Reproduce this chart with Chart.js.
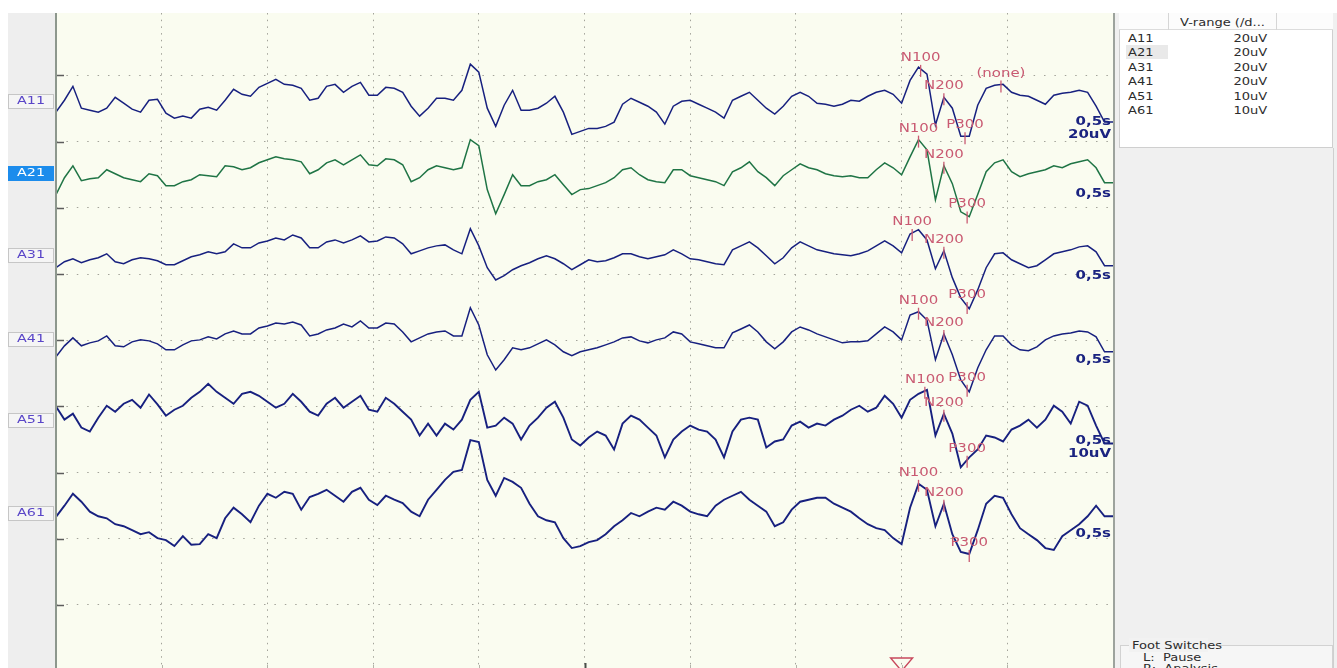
<!DOCTYPE html>
<html lang="en">
<head>
<meta charset="UTF-8">
<title>EEG – evoked potentials</title>
<script src="https://cdn.jsdelivr.net/npm/chart.js@4.4.1/dist/chart.umd.min.js"></script>
<style>
  body { margin: 0; width: 1337px; height: 668px; overflow: hidden; background: #fff;
         font-family: "DejaVu Sans", sans-serif; position: relative; color: #2c2c2c; }
  #eeg { position: absolute; left: 0; top: 0; }
  .abs { position: absolute; }
  .sx { display: inline-block; transform: scaleX(1.24); transform-origin: left center; white-space: nowrap; }
  .sxr { display: inline-block; transform: scaleX(1.24); transform-origin: right center; white-space: nowrap; }
  #side { left: 1113px; top: 13px; width: 224px; height: 655px; background: #f0f0f0;
          border-left: 2px solid #9da39d; box-sizing: border-box; }
  #vtable { left: 1119px; top: 13px; width: 214px; height: 135px; background: #fff;
            border: 1px solid #cfcfcf; box-sizing: border-box; }
  .hdr { left: 1119px; top: 13px; width: 214px; height: 17px; border-bottom: 1px solid #dcdcdc;
         box-sizing: border-box; background: #fcfcfc; }
  .sep { top: 13px; width: 1px; height: 17px; background: #d6d6d6; }
  .cell { font-size: 10.5px; line-height: 14px; height: 14px; }
  .rowsel { background: #e9e9e9; }
  #foot { left: 1120px; top: 645px; width: 213px; height: 30px; border: 1px solid #d2d2d2;
          background: #f6f6f6; box-sizing: border-box; }
</style>
</head>
<body>
<canvas id="eeg" width="1113" height="668"></canvas>

<div id="side" class="abs"></div>
<div id="vtable" class="abs"></div>
<div class="abs hdr"></div>
<div class="abs sep" style="left:1168px"></div>
<div class="abs sep" style="left:1276px"></div>
<div class="abs cell" style="left:1180px; top:14px; line-height:16px"><span class="sx">V-range (/d...</span></div>
<div id="rows"></div>
<div class="abs" style="left:1333px; top:148px; width:1px; height:520px; background:#cfcfcf"></div>
<div id="foot" class="abs"></div>
<div class="abs cell" style="left:1129px; top:638px; background:#f2f2f2; padding:0 3px"><span class="sx">Foot Switches</span></div>
<div class="abs cell" style="left:1143px; top:650px"><span class="sx">L:&nbsp;&nbsp;Pause</span></div>
<div class="abs cell" style="left:1143px; top:661px"><span class="sx">R:&nbsp;&nbsp;Analysis</span></div>

<script>
// sweep: 10 divisions of 0,5 s, one sample every 40 ms
const SAMPLE_STEP = 0.04;
const SWEEP = 5;
const STIMULUS = 4.0;

const channelNames = ['A11', 'A21', 'A31', 'A41', 'A51', 'A61'];
const vRange = [20, 20, 20, 20, 10, 10];          // uV per division
const rangeLabels = ['20uV', '20uV', '20uV', '20uV', '10uV', '10uV'];
const timeLabel = '0,5s';

// traces in uV (positive up)
const A11 = [
  -3.3, 0.3, 4.5, -2.1, -2.7, -3.3, -2.1, 1.2, -0.6, -2.4,
  -3.3, 0.3, 0.6, -3.6, -5.1, -4.5, -5.1, -2.4, -1.8, -2.7,
  0.3, 3.6, 2.1, 1.5, 4.2, 5.4, 6.6, 5.1, 4.8, 3.9,
  0.3, 0.9, 4.5, 5.1, 2.7, 4.5, 5.7, 1.8, 1.8, 4.2,
  3.9, 2.7, -1.5, -4.5, -2.1, 0.9, 0.9, 0.3, 3.3, 11.2,
  8.8, -2.1, -7.6, -1.2, 3.3, -2.7, -2.7, -2.1, -0.6, 1.5,
  -3.3, -10.0, -9.1, -8.2, -8.2, -7.6, -6.3, -0.9, 0.9, -0.3,
  -1.5, -3.3, -6.9, -1.5, 0, 0.3, -0.9, -2.1, -3.3, -5.1,
  0.3, 1.5, 2.7, 0.3, -2.1, -3.9, -1.5, 1.5, 2.7, 1.5,
  -0.6, -0.9, -1.5, -0.9, 0.3, 0, 1.5, 2.7, 3.3, 2.1,
  -0.6, 6.3, 10.3, 8.2, -7.2, 1.2, -2.1, -10.6, -10.6, -1.2,
  3.9, 4.8, 5.1, 2.7, 1.8, 1.5, 0.3, -0.9, 1.8, 2.4,
  2.7, 3.3, 2.7, -1.5, -6.3, -6.3
];
const A21 = [
  -6.6, -1.5, 2.1, -2.4, -1.8, -1.5, 0.9, -0.3, -1.5, -2.1,
  -2.7, -0.3, -0.9, -3.9, -3.9, -2.7, -2.1, -0.6, -0.9, -1.2,
  2.1, 1.8, 0.9, 1.5, 3.0, 3.9, 4.8, 4.2, 3.9, 3.3,
  -0.3, 0.9, 3.0, 3.9, 2.4, 3.9, 5.4, 2.4, 2.1, 4.2,
  3.9, 2.4, -2.7, -1.5, 0.9, 2.1, 1.5, 0.9, 1.5, 10.0,
  8.2, -5.1, -12.4, -6.6, -0.6, -3.9, -3.9, -2.7, -2.1, -0.6,
  -3.6, -6.6, -5.1, -4.8, -3.9, -3.0, -1.5, 0.9, 1.5, -0.6,
  -2.1, -2.7, -3.0, 0.9, 0.9, -0.9, -1.5, -2.1, -2.7, -3.9,
  0.3, 1.5, 3.3, 0.3, -1.5, -3.9, -0.9, 0.9, 2.7, 1.5,
  0.9, -0.3, -0.9, -1.2, -0.9, -1.5, -1.5, 0.9, 3.0, 1.5,
  -0.6, 4.8, 10.0, 6.9, -8.2, 2.1, -3.3, -11.8, -13.3, -6.6,
  0.3, 3.0, 3.9, 0.3, -1.2, -0.3, 0.3, 0.9, 2.1, 1.5,
  2.7, 3.3, 3.9, 1.5, -3.0, -3.0
];
const A31 = [
  -3.9, -2.1, -1.2, -2.4, -1.5, -0.9, 0.3, -2.1, -2.7, -1.5,
  -0.9, -1.2, -1.8, -3.0, -3.0, -1.8, -0.6, 0, 0.9, 0.3,
  0.9, 3.3, 2.1, 2.1, 3.6, 4.2, 5.1, 4.5, 6.0, 5.1,
  2.1, 2.1, 3.9, 4.5, 3.6, 4.5, 5.7, 3.9, 4.2, 5.4,
  5.1, 3.3, 0.3, 1.2, 2.1, 2.7, 3.0, 1.5, 0.3, 7.9,
  2.7, -3.9, -7.6, -6.3, -4.5, -3.3, -2.4, -1.2, -0.3, -1.2,
  -2.7, -4.5, -3.0, -1.5, -2.1, -1.8, -0.9, 0.3, 0.3, -0.6,
  -1.2, -0.6, 0, 1.5, 0.3, -1.2, -1.5, -2.1, -2.7, -3.0,
  1.5, 2.7, 3.9, 2.1, -0.3, -2.7, -0.9, 2.1, 3.9, 2.7,
  1.5, 0.9, 0.3, 0, -0.3, 0.3, 1.2, 2.7, 4.2, 2.7,
  0.6, 6.3, 7.6, 4.5, -4.2, 1.2, -6.9, -13.0, -16.3, -10.6,
  -3.9, 0.3, 0.6, -1.5, -2.7, -3.9, -3.3, -1.5, 0.3, 0.9,
  1.5, 2.4, 2.7, 0.9, -3.3, -3.3
];
const A41 = [
  -5.4, -2.1, 0.3, -2.1, -1.2, -0.6, 0.9, -2.1, -2.4, -0.9,
  -0.3, -0.6, -1.5, -3.3, -3.3, -1.8, -0.6, -0.3, 0.6, 0,
  1.5, 2.4, 1.5, 1.5, 3.3, 3.9, 4.8, 4.5, 5.1, 4.2,
  0.9, 1.5, 2.7, 3.3, 4.5, 3.6, 5.4, 3.3, 3.3, 4.8,
  4.5, 2.1, -0.9, 0.3, 1.5, 2.1, 2.4, 0.9, 0.9, 9.4,
  4.2, -4.8, -9.4, -6.3, -2.7, -3.3, -2.7, -1.5, -0.3, -1.8,
  -3.9, -5.1, -3.9, -3.3, -2.7, -1.8, -0.9, 0.3, 0.6, -0.6,
  -1.2, -0.3, 0.3, 2.1, 1.5, -0.9, -1.5, -2.1, -2.7, -2.7,
  1.8, 3.0, 4.2, 2.1, -0.9, -3.0, -0.9, 2.1, 3.6, 2.7,
  1.5, 0.6, -0.3, -1.2, -0.9, -0.9, -0.6, 1.5, 3.6, 2.1,
  -0.3, 7.2, 8.2, 5.7, -6.3, 1.5, -4.8, -12.4, -16.0, -8.8,
  -3.3, 0.9, 0.9, -1.8, -3.3, -3.6, -2.4, -0.3, 0.9, 1.5,
  1.8, 2.4, 2.1, 0.6, -3.9, -3.9
];
const A51 = [
  2.0, 0, 0.9, -1.2, -1.8, 0.3, 2.1, 1.2, 2.4, 3.0,
  1.8, 3.8, 2.3, 0.6, 1.5, 2.1, 3.3, 4.2, 5.4, 4.2,
  3.3, 2.4, 3.9, 4.2, 3.6, 2.7, 1.8, 2.4, 3.9, 2.7,
  1.2, 0.6, 2.4, 3.3, 1.8, 2.7, 3.6, 1.5, 1.2, 3.3,
  2.4, 1.2, 0, -2.4, -0.6, -2.4, -0.6, -1.5, 0, 3.0,
  4.2, -1.2, -0.9, 0.3, -0.6, -3.0, -0.9, 0.3, 1.8, 2.7,
  0.3, -3.0, -3.9, -2.7, -1.8, -2.4, -4.5, -0.6, 0.6, 0,
  -1.2, -2.4, -5.7, -3.0, -1.8, -0.9, -1.5, -1.8, -3.0, -5.7,
  -1.8, 0, 0.3, 0, -4.2, -3.3, -3.0, -0.9, -0.3, -1.2,
  -0.6, -0.9, 0, 0.6, 1.5, 2.1, 1.2, 1.8, 3.6, 2.4,
  0.3, 3.0, 3.9, 4.5, -2.4, 0.9, -2.1, -7.2, -5.7, -4.5,
  -2.4, -2.7, -3.3, -1.5, -0.9, 0, -1.2, 0, 2.1, 1.2,
  -0.6, 2.7, 2.1, -0.9, -3.6, -3.6
];
const A61 = [
  -0.6, 1.1, 2.9, 1.7, 0.2, -0.5, -0.8, -1.7, -2.0, -2.6,
  -3.2, -2.9, -3.8, -4.1, -5.0, -3.5, -4.8, -4.7, -3.2, -3.8,
  -0.8, 0.8, -0.2, -1.4, 1.1, 2.9, 2.3, 3.2, 2.9, 0.5,
  2.4, 2.9, 3.5, 2.6, 1.7, 3.2, 3.8, 2.0, 1.2, 2.6,
  2.0, 1.5, 0.2, -0.5, 2.0, 3.5, 5.0, 6.2, 6.5, 11.0,
  10.7, 5.0, 2.6, 5.3, 4.7, 3.8, 1.4, -0.5, -1.1, -1.4,
  -3.8, -5.3, -5.0, -4.4, -4.1, -3.2, -2.0, -1.1, 0, -0.5,
  0.2, 0.8, 0.5, 1.7, 1.1, 0.2, -0.2, -0.5, 1.1, 2.0,
  2.6, 3.2, 2.0, 1.1, 0.2, -2.0, -1.4, 0.5, 1.7, 2.0,
  2.3, 2.3, 1.4, 0.8, 0.2, -0.8, -1.7, -2.3, -2.6, -3.8,
  -4.7, 0.8, 4.4, 3.5, -2.0, 1.4, -3.2, -5.9, -6.2, -2.6,
  1.4, 2.6, 2.3, -0.2, -2.3, -3.2, -4.1, -5.3, -5.6, -3.5,
  -2.6, -1.7, -0.5, 1.1, -0.5, -0.5
];

// peak markers (s)
const n100Time = [4.09, 4.08, 4.05, 4.08, 4.11, 4.08];
const n200Time = [4.20, 4.20, 4.20, 4.20, 4.20, 4.20];
const p300Time = [4.30, 4.31, 4.31, 4.31, 4.31, 4.32];
const unnamedMarker = { channel: 0, time: 4.47, label: '(none)' };

// screen layout
const baseline = [8.61, 7.53, 6.29, 5.02, 3.80, 2.39];   // in divisions from the bottom grid
const gridDivs = [1, 2, 3, 4, 5, 6, 7, 8, 9];
const Y_MIN = 0.048, Y_MAX = 9.943;
const traceColor = ['#17207f', '#1f7445', '#17207f', '#17207f', '#17207f', '#17207f'];
const traceWidth = [1.5, 1.5, 1.5, 1.5, 1.9, 1.9];
const selectedChannel = 1;
const MARK_COLOR = '#c95a72';
const SX = 1.3;   // the recorder screen is horizontally stretched

const traces = [A11, A21, A31, A41, A51, A61];

function valueAt(c, t) {
  const f = t / SAMPLE_STEP, i = Math.floor(f), w = f - i;
  const v = traces[c];
  return v[i] * (1 - w) + v[Math.min(i + 1, v.length - 1)] * w;
}

function wideText(ctx, text, x, y, align) {
  ctx.save();
  ctx.translate(x, y);
  ctx.scale(SX, 1);
  ctx.textAlign = align;
  ctx.textBaseline = 'middle';
  ctx.fillText(text, 0, 0);
  ctx.restore();
}

const screenPlugin = {
  id: 'screen',
  beforeDraw(chart) {
    const { ctx, chartArea: a, width, height } = chart;
    ctx.save();
    ctx.fillStyle = '#fff';
    ctx.fillRect(0, 0, width, height);
    ctx.fillStyle = '#eeeeee';
    ctx.fillRect(8, a.top, a.left - 8, a.bottom - a.top);
    ctx.fillStyle = '#fafcf0';
    ctx.fillRect(a.left, a.top, a.right - a.left, a.bottom - a.top);
    ctx.restore();
  },
  afterDatasetsDraw(chart) {
    const { ctx, chartArea: a, scales: { x, y } } = chart;
    ctx.save();

    // left axis with tick marks
    ctx.fillStyle = '#8d978d';
    ctx.fillRect(a.left - 1, a.top, 2, a.bottom - a.top);
    ctx.strokeStyle = '#5c5c5c';
    ctx.lineWidth = 1.5;
    gridDivs.forEach(v => {
      const py = Math.round(y.getPixelForValue(v)) + 0.5;
      ctx.beginPath(); ctx.moveTo(a.left + 1, py); ctx.lineTo(a.left + 8, py); ctx.stroke();
    });

    // bottom tick marks
    x.ticks.forEach(t => {
      if (t.value <= 0 || t.value >= SWEEP) return;
      const px = Math.round(x.getPixelForValue(t.value)) + 0.5;
      const mid = t.value === SWEEP / 2;
      ctx.strokeStyle = mid ? '#4a4f4a' : '#b4b4aa';
      ctx.lineWidth = mid ? 2 : 1;
      ctx.beginPath(); ctx.moveTo(px, a.bottom - (mid ? 5 : 3)); ctx.lineTo(px, a.bottom); ctx.stroke();
    });

    // trigger triangle
    const tx = x.getPixelForValue(STIMULUS);
    ctx.strokeStyle = '#c8485c';
    ctx.lineWidth = 1.4;
    ctx.beginPath();
    ctx.moveTo(tx - 11, a.bottom - 10);
    ctx.lineTo(tx + 11, a.bottom - 10);
    ctx.lineTo(tx, a.bottom + 3);
    ctx.closePath();
    ctx.stroke();

    // peak markers
    ctx.font = '11.5px "DejaVu Sans"';
    const drawMarker = (c, t, label) => {
      const px = x.getPixelForValue(t);
      const py = y.getPixelForValue(baseline[c] + valueAt(c, t) / vRange[c]);
      ctx.strokeStyle = MARK_COLOR;
      ctx.lineWidth = 1.3;
      ctx.beginPath(); ctx.moveTo(px, py - 4); ctx.lineTo(px, py + 8); ctx.stroke();
      ctx.fillStyle = MARK_COLOR;
      wideText(ctx, label, px, py - 11, 'center');
    };
    channelNames.forEach((_, c) => {
      drawMarker(c, n100Time[c], 'N100');
      drawMarker(c, n200Time[c], 'N200');
      drawMarker(c, p300Time[c], 'P300');
    });
    drawMarker(unnamedMarker.channel, unnamedMarker.time, unnamedMarker.label);

    // time / sensitivity labels at the right end of each trace
    ctx.font = 'bold 11.5px "DejaVu Sans"';
    ctx.fillStyle = '#1a2380';
    channelNames.forEach((_, c) => {
      const py = y.getPixelForValue(baseline[c]) + 21;
      wideText(ctx, timeLabel, a.right - 2, py, 'right');
      if (c === 0 || vRange[c] !== vRange[c - 1]) {
        wideText(ctx, rangeLabels[c], a.right - 2, py + 13, 'right');
      }
    });

    // channel name boxes on the left
    ctx.font = '11px "DejaVu Sans"';
    channelNames.forEach((name, c) => {
      const py = Math.round(y.getPixelForValue(baseline[c]));
      const sel = c === selectedChannel;
      ctx.fillStyle = sel ? '#1c8cec' : '#f5f5f5';
      ctx.fillRect(8, py - 7, a.left - 10, 15);
      if (!sel) {
        ctx.strokeStyle = '#c6c6c6';
        ctx.lineWidth = 1;
        ctx.strokeRect(8.5, py - 6.5, a.left - 11, 14);
      }
      ctx.fillStyle = sel ? '#ffffff' : '#5a46c8';
      wideText(ctx, name, 17, py + 0.5, 'left');
    });

    ctx.restore();
  }
};

const datasets = traces.map((vals, c) => ({
  label: channelNames[c],
  data: vals.map((v, i) => ({ x: i * SAMPLE_STEP, y: baseline[c] + v / vRange[c] })),
  borderColor: traceColor[c],
  borderWidth: traceWidth[c],
  pointRadius: 0,
  tension: 0
}));

new Chart(document.getElementById('eeg'), {
  type: 'line',
  data: { datasets },
  options: {
    responsive: false,
    animation: false,
    events: [],
    layout: { padding: { left: 56, top: 13, right: 0, bottom: 0 } },
    plugins: { legend: { display: false }, tooltip: { enabled: false } },
    scales: {
      x: {
        type: 'linear', min: 0, max: SWEEP,
        ticks: { display: false, stepSize: 0.5 },
        grid: {
          drawTicks: false, lineWidth: 1,
          color: ctx => (ctx.tick.value <= 0 || ctx.tick.value >= SWEEP) ? 'rgba(0,0,0,0)' : '#a3a39a'
        },
        border: { display: false, dash: [1.5, 5.2] }
      },
      y: {
        type: 'linear', min: Y_MIN, max: Y_MAX,
        afterBuildTicks: s => { s.ticks = gridDivs.map(v => ({ value: v })); },
        ticks: { display: false },
        grid: { drawTicks: false, lineWidth: 1, color: '#a3a39a' },
        border: { display: false, dash: [1.5, 8.9] }
      }
    }
  },
  plugins: [screenPlugin]
});

// V-range table rows
const rowsEl = document.getElementById('rows');
channelNames.forEach((name, c) => {
  const top = 31 + c * 14.4;
  rowsEl.insertAdjacentHTML('beforeend',
    `<div class="abs cell${c === selectedChannel ? ' rowsel' : ''}" style="left:1126px; top:${top}px; width:40px; padding-left:2px">` +
    `<span class="sx">${name}</span></div>` +
    `<div class="abs cell" style="left:1200px; top:${top}px; width:67px; text-align:right">` +
    `<span class="sxr">${rangeLabels[c]}</span></div>`);
});
</script>
</body>
</html>
